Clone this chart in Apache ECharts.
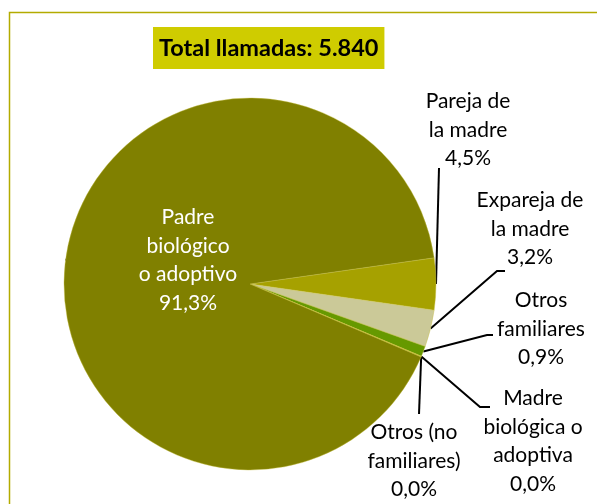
<!DOCTYPE html>
<html>
<head>
<meta charset="utf-8">
<script src="https://cdn.jsdelivr.net/npm/echarts@6/dist/echarts.min.js"></script>
<style>
html,body{margin:0;padding:0;background:#fff;}
#chart{width:597px;height:504px;}
</style>
</head>
<body>
<div id="chart"></div>
<script>
// ---- data ----
const titleText = 'Total llamadas: 5.840';
const categories = [
  'Pareja de\nla madre',
  'Expareja de\nla madre',
  'Otros\nfamiliares',
  'Madre\nbiológica o\nadoptiva',
  'Otros (no\nfamiliares)',
  'Padre\nbiológico\no adoptivo'
];
const values = [4.5, 3.2, 0.9, 0.03, 0.03, 91.3];
const colors = ['#a6a100', '#cbc998', '#669900', '#b5ad00', '#c8c000', '#808000'];

// label anchor (center of label block) and leader elbow offsets
const labelPos = [
  {x: 468, y: 130, pts: [[-29, 38]]},
  {x: 530, y: 229, pts: [[-33, 42], [-25, 42]]},
  {x: 541, y: 329, pts: [[-54, 6], [-48, 6]]},
  {x: 533, y: 441, pts: [[-53, -34], [-43, -34]]},
  {x: 414, y: 461, pts: [[5, -47]]},
  {x: 188, y: 260, pts: null}
];

const fmt = v => v.toFixed(1).replace('.', ',') + '%';

const chart = echarts.init(document.getElementById('chart'), null, {renderer: 'canvas'});
chart.setOption({
  backgroundColor: '#fff',
  animation: false,
  graphic: [{
    type: 'rect',
    shape: {x: 9.5, y: 12.5, width: 700, height: 600},
    style: {fill: 'none', stroke: '#b3ab00', lineWidth: 1.5},
    z: 0
  }],
  title: {
    text: titleText,
    left: 153,
    top: 27,
    backgroundColor: '#cfcc00',
    padding: [7, 6, 7, 6],
    textStyle: {fontFamily: 'Lato', fontWeight: 'bold', fontSize: 23.5, color: '#000', lineHeight: 28}
  },
  series: [{
    type: 'pie',
    center: [250, 284],
    radius: 186,
    startAngle: 8.1,
    clockwise: true,
    avoidLabelOverlap: false,
    minAngle: 0,
    data: categories.map((c, i) => ({
      name: c,
      value: values[i],
      itemStyle: {color: colors[i]},
      label: i === 5 ? {color: '#fff'} : {color: '#000'}
    })),
    itemStyle: {borderColor: '#c9c24a', borderWidth: 0.4},
    label: {
      show: true,
      position: 'outside',
      formatter: p => p.name + '\n' + fmt(p.value),
      fontFamily: 'Lato',
      fontSize: 21,
      lineHeight: 28.5,
      align: 'center'
    },
    labelLine: {show: true, length: 10, length2: 10, lineStyle: {color: '#000', width: 2}},
    labelLayout: function (params) {
      const lp = labelPos[params.dataIndex];
      const res = {x: lp.x, y: lp.y, align: 'center', verticalAlign: 'middle'};
      if (lp.pts && params.labelLinePoints) {
        const start = params.labelLinePoints[0];
        const pts = [start];
        lp.pts.forEach(o => pts.push([lp.x + o[0], lp.y + o[1]]));
        res.labelLinePoints = pts;
      }
      return res;
    },
    emphasis: {disabled: true}
  }]
});
</script>
</body>
</html>
